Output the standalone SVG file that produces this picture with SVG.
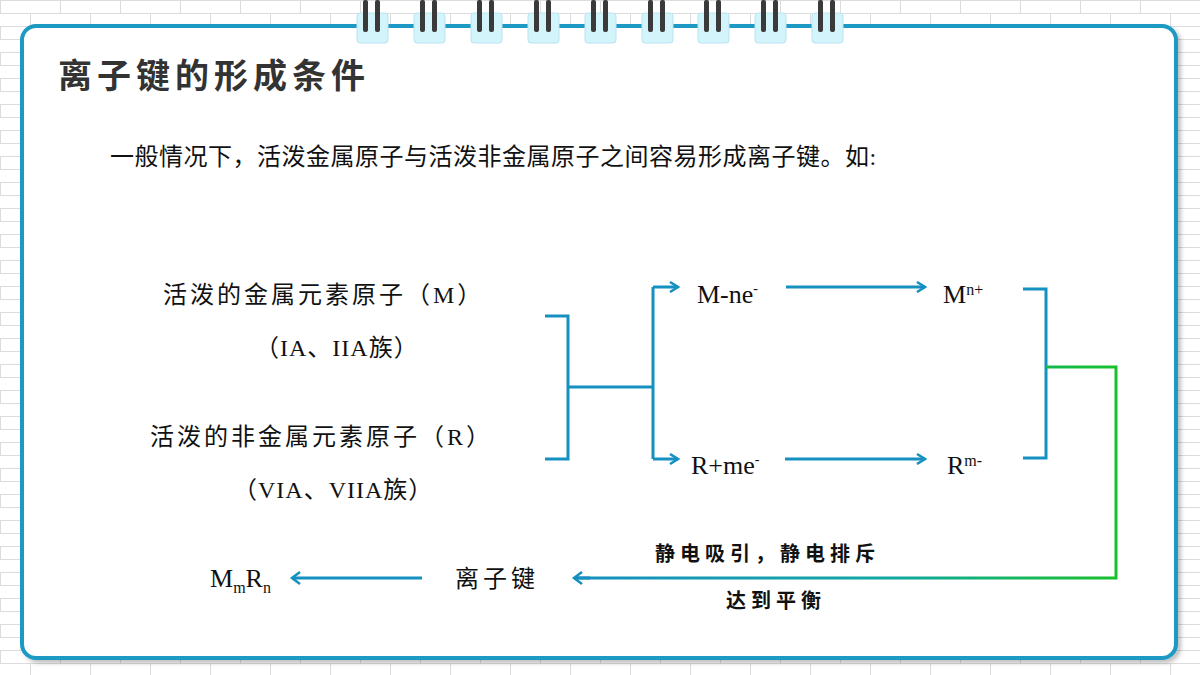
<svg xmlns="http://www.w3.org/2000/svg" width="1200" height="675" viewBox="0 0 1200 675">
<defs>
<pattern id="brick" width="60" height="26" patternUnits="userSpaceOnUse">
<rect width="60" height="26" fill="#ffffff"/>
<path d="M0 0.5H60M0 13.5H60M0.5 0V13M30.5 13V26" stroke="#dcdcdc" stroke-width="1" fill="none"/>
</pattern>
<linearGradient id="gb" x1="572" y1="0" x2="1116" y2="0" gradientUnits="userSpaceOnUse">
<stop offset="0" stop-color="#1590c0"/><stop offset="0.6" stop-color="#12a8a0"/><stop offset="1" stop-color="#18c02a"/>
</linearGradient>
<marker id="ar" markerWidth="12" markerHeight="12" refX="10" refY="6" orient="auto" markerUnits="userSpaceOnUse">
<path d="M2 1L10 6L2 11" fill="none" stroke="#1590c0" stroke-width="2.5"/>
</marker>
<marker id="arl" markerWidth="14" markerHeight="14" refX="10" refY="7" orient="auto" markerUnits="userSpaceOnUse">
<path d="M2 1L10 7L2 13" fill="none" stroke="#1590c0" stroke-width="2.5"/>
</marker>
<filter id="sh"><feDropShadow dx="3" dy="3" stdDeviation="2" flood-color="#000" flood-opacity="0.25"/></filter>
<style>
.t{font-family:"Liberation Serif","Noto Sans CJK SC",serif;font-size:24px;fill:#111}
.l{font-size:26px}
.h{font-family:"Noto Sans CJK SC",sans-serif;font-size:34px;font-weight:bold;fill:#333;letter-spacing:5px}
.b{font-family:"Noto Sans CJK SC",sans-serif;font-size:20px;font-weight:bold;fill:#111;letter-spacing:5px}
.c{fill:none;stroke:#1590c0;stroke-width:3}
.tab{fill:#d4f4fc;stroke:#b8e4f0;stroke-width:1}
.bar{fill:#3a3a3a}
</style>
</defs>
<rect width="1200" height="675" fill="url(#brick)"/>
<rect x="22" y="26" width="1154" height="632" rx="14" fill="#ffffff" stroke="#1a9ac4" stroke-width="4" filter="url(#sh)"/>
<g id="rings">
<g transform="translate(372,0)"><rect class="tab" x="-15" y="13" width="31" height="30" rx="3"/><rect class="bar" x="-9" y="0" width="5" height="32" rx="2"/><rect class="bar" x="3" y="0" width="5" height="32" rx="2"/></g>
<g transform="translate(429,0)"><rect class="tab" x="-15" y="13" width="31" height="30" rx="3"/><rect class="bar" x="-9" y="0" width="5" height="32" rx="2"/><rect class="bar" x="3" y="0" width="5" height="32" rx="2"/></g>
<g transform="translate(486,0)"><rect class="tab" x="-15" y="13" width="31" height="30" rx="3"/><rect class="bar" x="-9" y="0" width="5" height="32" rx="2"/><rect class="bar" x="3" y="0" width="5" height="32" rx="2"/></g>
<g transform="translate(543,0)"><rect class="tab" x="-15" y="13" width="31" height="30" rx="3"/><rect class="bar" x="-9" y="0" width="5" height="32" rx="2"/><rect class="bar" x="3" y="0" width="5" height="32" rx="2"/></g>
<g transform="translate(600,0)"><rect class="tab" x="-15" y="13" width="31" height="30" rx="3"/><rect class="bar" x="-9" y="0" width="5" height="32" rx="2"/><rect class="bar" x="3" y="0" width="5" height="32" rx="2"/></g>
<g transform="translate(657,0)"><rect class="tab" x="-15" y="13" width="31" height="30" rx="3"/><rect class="bar" x="-9" y="0" width="5" height="32" rx="2"/><rect class="bar" x="3" y="0" width="5" height="32" rx="2"/></g>
<g transform="translate(713,0)"><rect class="tab" x="-15" y="13" width="31" height="30" rx="3"/><rect class="bar" x="-9" y="0" width="5" height="32" rx="2"/><rect class="bar" x="3" y="0" width="5" height="32" rx="2"/></g>
<g transform="translate(770,0)"><rect class="tab" x="-15" y="13" width="31" height="30" rx="3"/><rect class="bar" x="-9" y="0" width="5" height="32" rx="2"/><rect class="bar" x="3" y="0" width="5" height="32" rx="2"/></g>
<g transform="translate(827,0)"><rect class="tab" x="-15" y="13" width="31" height="30" rx="3"/><rect class="bar" x="-9" y="0" width="5" height="32" rx="2"/><rect class="bar" x="3" y="0" width="5" height="32" rx="2"/></g>
</g>
<text class="h" x="58" y="88">离子键的形成条件</text>
<text class="t" x="110" y="165" font-size="23" letter-spacing="0.5">一般情况下，活泼金属原子与活泼非金属原子之间容易形成离子键。如:</text>
<g id="metal"><text class="t" x="163" y="303" letter-spacing="3">活泼的金属元素原子（M）</text><text class="t" x="255" y="356" letter-spacing="1">（IA、IIA族）</text></g>
<g id="nonmetal"><text class="t" x="150" y="445" letter-spacing="3">活泼的非金属元素原子（R）</text><text class="t" x="233" y="498" letter-spacing="1">（VIA、VIIA族）</text></g>
<g id="mne"><text class="t l" x="697" y="303">M-ne<tspan font-size="14" dy="-10">-</tspan></text></g>
<g id="mn"><text class="t l" x="943" y="303">M<tspan font-size="16" dy="-8">n+</tspan></text></g>
<g id="rme"><text class="t l" x="691" y="474">R+me<tspan font-size="14" dy="-10">-</tspan></text></g>
<g id="rm"><text class="t l" x="947" y="474">R<tspan font-size="16" dy="-8">m-</tspan></text></g>
<g id="ionic"><text class="t" x="455" y="587" letter-spacing="4">离子键</text></g>
<g id="mmrn"><text class="t l" x="210" y="587">M<tspan font-size="16" dy="6">m</tspan><tspan dy="-6">R</tspan><tspan font-size="16" dy="6">n</tspan></text></g>
<g id="connectors">
<path class="c" d="M545 316H568V459H545M568 387H653M653 287V459"/>
<path class="c" d="M653 287H678" marker-end="url(#ar)"/>
<path class="c" d="M653 459H678" marker-end="url(#ar)"/>
<path class="c" d="M786 287H925" marker-end="url(#ar)"/>
<path class="c" d="M785 459H925" marker-end="url(#ar)"/>
<path class="c" d="M1023 289H1046V458H1023"/>
<path d="M1046 367H1116V578H574" fill="none" stroke="url(#gb)" stroke-width="3"/>
<path class="c" d="M590 578H574" marker-end="url(#arl)"/>
<path class="c" d="M422 578H292" marker-end="url(#arl)"/>
</g>
<text class="b" x="655" y="561">静电吸引，静电排斥</text>
<text class="b" x="726" y="608">达到平衡</text>
</svg>
